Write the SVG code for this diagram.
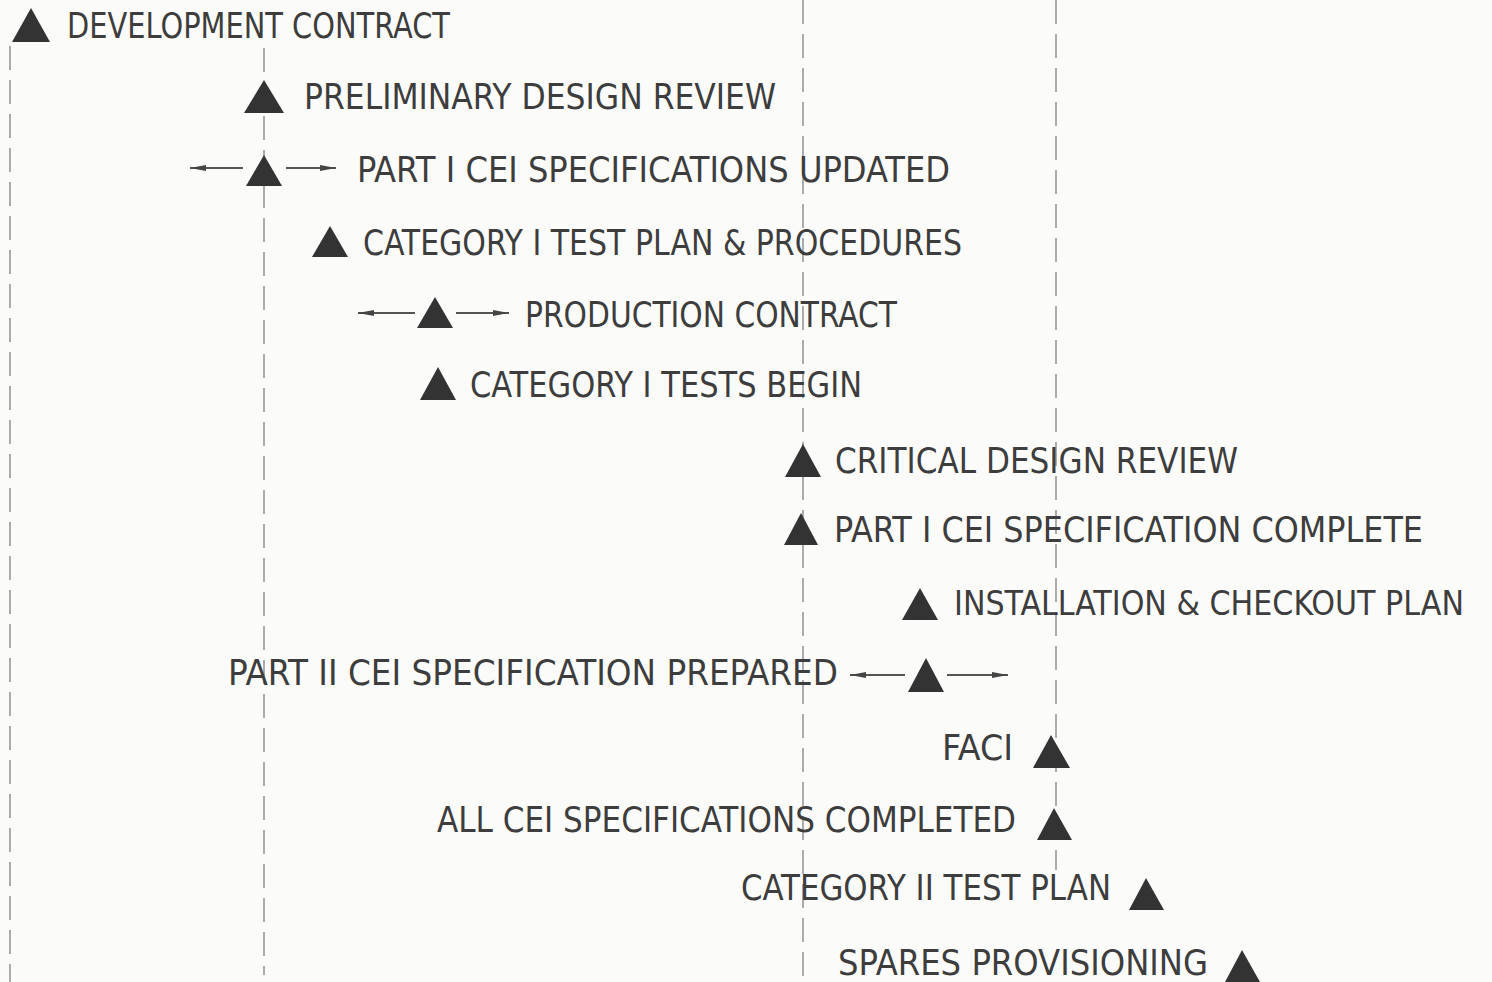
<svg xmlns="http://www.w3.org/2000/svg" width="1492" height="982" viewBox="0 0 1492 982">
<defs>
<marker id="ah" viewBox="0 0 16 8" refX="16" refY="4" markerWidth="16" markerHeight="8" markerUnits="userSpaceOnUse" orient="auto">
<path d="M0,1 L16,4 L0,7 Z" fill="#444"/>
</marker>
</defs>
<style>
.bg{fill:#fbfbfa}
.grid{stroke:#8a8a8a;stroke-width:1.4;stroke-dasharray:24 10;fill:none}
.lbl{font-family:"DejaVu Sans Condensed","DejaVu Sans",sans-serif;font-stretch:condensed;font-size:36px;fill:#3d3d3d}
.tri{fill:#333}
.arr{stroke:#555;stroke-width:1.8;fill:none;marker-end:url(#ah)}
</style>
<rect class="bg" x="0" y="0" width="1492" height="982"/>
<g id="grid-lines">
<line class="grid" x1="10" y1="46" x2="10" y2="982"/>
<line class="grid" x1="264" y1="48" x2="264" y2="975"/>
<line class="grid" x1="803" y1="0" x2="803" y2="982"/>
<line class="grid" x1="1056" y1="0" x2="1056" y2="870"/>
</g>
<g id="connectors">
<line class="arr" x1="243" y1="168" x2="190" y2="168"/>
<line class="arr" x1="286" y1="168" x2="336" y2="168"/>
<line class="arr" x1="415" y1="313" x2="358" y2="313"/>
<line class="arr" x1="456" y1="313" x2="509" y2="313"/>
<line class="arr" x1="905" y1="675" x2="850" y2="675"/>
<line class="arr" x1="947" y1="675" x2="1008" y2="675"/>
</g>
<g id="n1"><polygon class="tri" points="31,8 50,42 12,42"/><text class="lbl" x="67" y="38" textLength="383" lengthAdjust="spacingAndGlyphs">DEVELOPMENT CONTRACT</text></g>
<g id="n2"><polygon class="tri" points="264,80 284,113 244,113"/><text class="lbl" x="304" y="109" textLength="472" lengthAdjust="spacingAndGlyphs">PRELIMINARY DESIGN REVIEW</text></g>
<g id="n3"><polygon class="tri" points="264,155 282,186 246,186"/><text class="lbl" x="357" y="182" textLength="593" lengthAdjust="spacingAndGlyphs">PART I CEI SPECIFICATIONS UPDATED</text></g>
<g id="n4"><polygon class="tri" points="330,226 348,257 312,257"/><text class="lbl" x="363" y="255" textLength="599" lengthAdjust="spacingAndGlyphs">CATEGORY I TEST PLAN &amp; PROCEDURES</text></g>
<g id="n5"><polygon class="tri" points="435,297 453,328 417,328"/><text class="lbl" x="525" y="327" textLength="372" lengthAdjust="spacingAndGlyphs">PRODUCTION CONTRACT</text></g>
<g id="n6"><polygon class="tri" points="438,367 456,400 420,400"/><text class="lbl" x="470" y="397" textLength="392" lengthAdjust="spacingAndGlyphs">CATEGORY I TESTS BEGIN</text></g>
<g id="n7"><polygon class="tri" points="803,444 821,477 785,477"/><text class="lbl" x="835" y="473" textLength="403" lengthAdjust="spacingAndGlyphs">CRITICAL DESIGN REVIEW</text></g>
<g id="n8"><polygon class="tri" points="801,513 818,545 784,545"/><text class="lbl" x="834" y="542" textLength="589" lengthAdjust="spacingAndGlyphs">PART I CEI SPECIFICATION COMPLETE</text></g>
<g id="n9"><polygon class="tri" points="920,588 938,620 902,620"/><text class="lbl" x="954" y="615" style="font-size:33px" textLength="510" lengthAdjust="spacingAndGlyphs">INSTALLATION &amp; CHECKOUT PLAN</text></g>
<g id="n10"><polygon class="tri" points="926,658 944,692 908,692"/><text class="lbl" x="228" y="685" textLength="610" lengthAdjust="spacingAndGlyphs">PART II CEI SPECIFICATION PREPARED</text></g>
<g id="n11"><polygon class="tri" points="1051,735 1070,768 1033,768"/><text class="lbl" x="942" y="760" textLength="71" lengthAdjust="spacingAndGlyphs">FACI</text></g>
<g id="n12"><polygon class="tri" points="1054,808 1072,840 1037,840"/><text class="lbl" x="437" y="832" textLength="579" lengthAdjust="spacingAndGlyphs">ALL CEI SPECIFICATIONS COMPLETED</text></g>
<g id="n13"><polygon class="tri" points="1146,878 1164,910 1129,910"/><text class="lbl" x="741" y="900" textLength="370" lengthAdjust="spacingAndGlyphs">CATEGORY II TEST PLAN</text></g>
<g id="n14"><polygon class="tri" points="1242,950 1260,982 1225,982"/><text class="lbl" x="838" y="975" textLength="370" lengthAdjust="spacingAndGlyphs">SPARES PROVISIONING</text></g>
</svg>
